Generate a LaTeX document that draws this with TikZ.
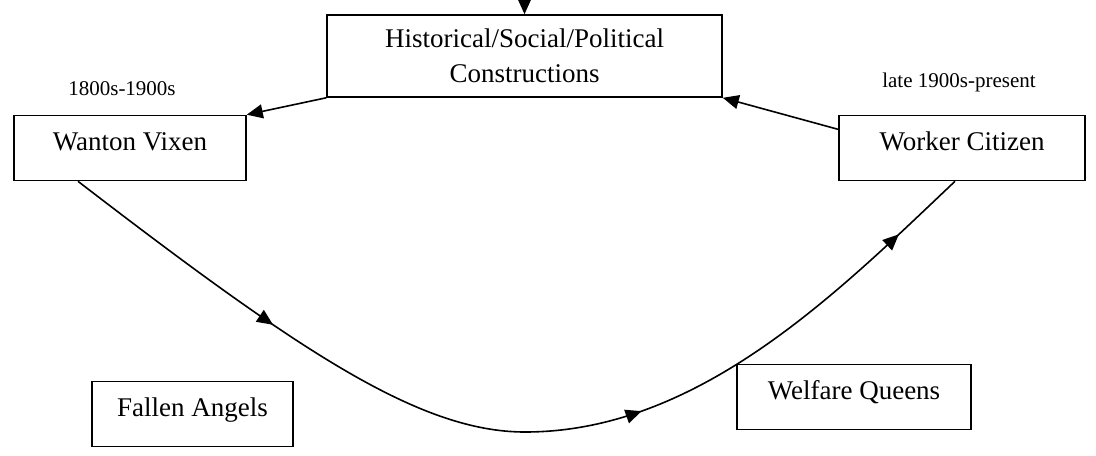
\documentclass[tikz,border=0pt]{standalone}
\usepackage{fontspec}
\setmainfont{Liberation Serif}
\usepackage{tikz}
\usetikzlibrary{arrows.meta, calc, decorations.markings}
\newcommand{\boxfont}{\fontsize{13.5}{17.5}\selectfont}
\newcommand{\erafont}{\fontsize{10.5}{12}\selectfont}
\tikzset{
  box/.style={rectangle,draw=black,line width=0.8pt,inner sep=0pt,
    text height=17.5pt,text depth=15pt,font=\boxfont},
  bigbox/.style={rectangle,draw=black,line width=0.8pt,align=center,
    minimum width=197.5pt,minimum height=41pt,font=\boxfont},
  era/.style={font=\erafont,inner sep=0pt},
  arrow/.style={-{Triangle[length=8pt,width=7pt]},line width=0.8pt},
  flow/.style={line width=0.8pt,postaction={decorate},
    decoration={markings,
      mark=at position 0.235 with {\arrow{Triangle[length=8pt,width=7pt]}},
      mark=at position 0.62 with {\arrow{Triangle[length=8pt,width=7pt]}},
      mark=at position 0.925 with {\arrow{Triangle[length=8pt,width=7pt]}}}}
}

\begin{document}
\begin{tikzpicture}[x=0.5pt,y=-0.5pt]
  \useasboundingbox (0,0) rectangle (1096,455);

  % boxes
  \node[bigbox] (hsp) at (524.5,56) {Historical/Social/Political\\Constructions};
  \node[box,minimum width=116pt] (wv) at (130,148) {Wanton Vixen};
  \node[box,minimum width=123pt] (wc) at (962,148) {Worker Citizen};
  \node[box,minimum width=100.5pt] (fa) at (192.5,414) {Fallen Angels};
  \node[box,minimum width=117pt] (wq) at (854,397) {Welfare Queens};

  % periods
  \node[era] (era1) at (122,89) {1800s-1900s};
  \node[era] (era2) at (959,82) {late 1900s-present};

  % arrows into and out of the constructions box
  \coordinate (feed) at ([yshift=8pt]hsp.north);
  \draw[arrow] (feed) -- (hsp.north);
  \draw[arrow] (hsp.south west) -- (wv.north east);
  \coordinate (wcout) at ($(wc.north west)!0.22!(wc.south west)$);
  \draw[arrow] (wcout) -- (hsp.south east);

  % the cycle below
  \coordinate (cstart) at ([xshift=-26pt]wv.south);
  \coordinate (cbot) at (525,432);
  \coordinate (cend) at ([xshift=-3.5pt]wc.south);
  \draw[flow] (cstart) .. controls (300,352) and (420,432) .. (cbot)
    .. controls (700,432) and (840,290) .. (cend);
\end{tikzpicture}
\end{document}
